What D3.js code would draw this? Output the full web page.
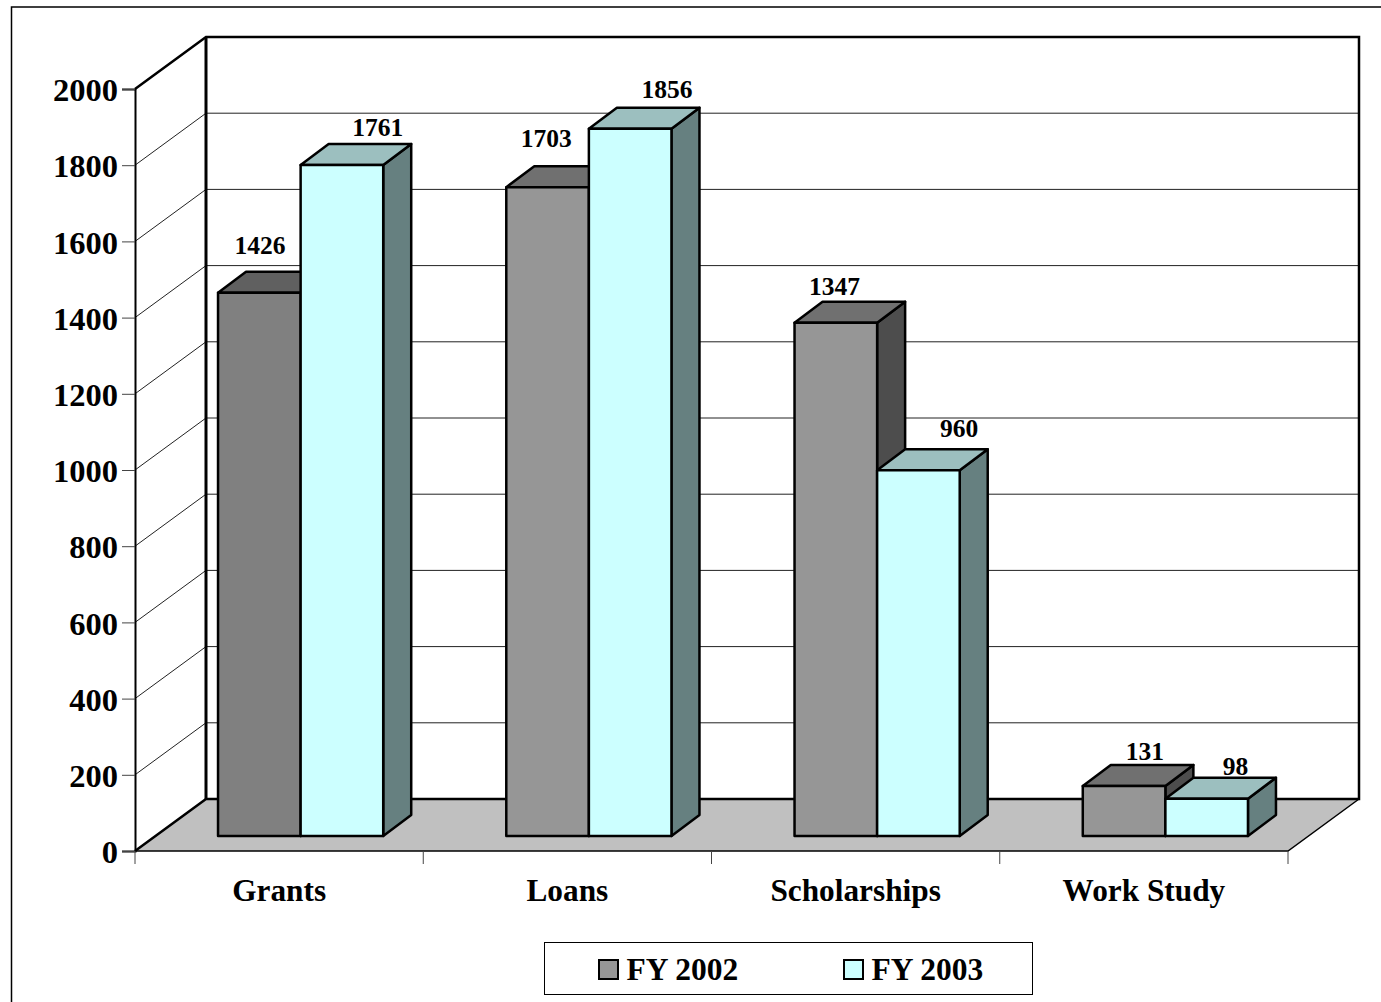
<!DOCTYPE html>
<html>
<head>
<meta charset="utf-8">
<script src="https://cdn.jsdelivr.net/npm/d3@7"></script>
<style>
  html, body { margin: 0; padding: 0; background: #fff; }
  svg { display: block; }
  text { font-family: "Liberation Serif", serif; font-weight: 700; fill: #000; }
</style>
</head>
<body>
<svg id="chart"></svg>
<script>
// 3D-look clustered column chart, faked with polygons
const categories = ["Grants", "Loans", "Scholarships", "Work Study"];
const fy2002 = [1426, 1703, 1347, 131];
const fy2003 = [1761, 1856, 960, 98];
const seriesNames = ["FY 2002", "FY 2003"];
const yTicks = [0, 200, 400, 600, 800, 1000, 1200, 1400, 1600, 1800, 2000];

const width = 1381;
const height = 1002;

// front-left corner of the floor is x=135, y=851
const depth = { x: 71, y: -52 }; // wall offset
const barDepth = { x: 28, y: -21 };
const barShift = { x: 21.5, y: -15 }; // bars sit a bit behind the front edge

// data labels are placed by hand in the original, so nudge each one
const labelDx = [[42, 77], [40, 78], [40, 82], [62, 70]];
const labelDy = [[-18, -8], [-19, -10], [-7, -12], [-5, -3]];

const svg = d3.select("#chart").attr("width", width).attr("height", height);

const yScale = d3.scaleLinear().domain([0, 2000]).range([851, 89]);
const xScale = d3.scaleBand().domain(categories).range([135, 1288]);
const xSeries = d3
  .scaleBand()
  .domain(seriesNames)
  .range([0, xScale.bandwidth()])
  .paddingInner(0)
  .paddingOuter(0.745);

const colors = {
  "FY 2002": { front: "#969696", top: "#707070", side: "#4d4d4d" },
  "FY 2003": { front: "#ccffff", top: "#9cbfbf", side: "#668080" },
};
// first grey column is a shade darker than the others
const grantsColors = { front: "#808080", top: "#606060", side: "#4d4d4d" };

const x0 = xScale.range()[0];
const x1 = xScale.range()[1];
const yBase = yScale(0);
const yTop = yScale(2000);

const poly = (pts) => pts.map((p) => p.join(",")).join(" ");

// page frame: only top and left show in the original
svg
  .append("polyline")
  .attr("points", poly([[11.5, height], [11.5, 7], [width, 7]]))
  .attr("fill", "none")
  .attr("stroke", "#000")
  .attr("stroke-width", 1.5);

// floor
svg
  .append("polygon")
  .attr("points", poly([
    [x0, yBase],
    [x0 + depth.x, yBase + depth.y],
    [x1 + depth.x, yBase + depth.y],
    [x1, yBase],
  ]))
  .attr("fill", "#c0c0c0");

// gridlines across side wall and back wall
const gridG = svg.append("g");
yTicks.slice(1, -1).forEach((t) => {
  const y = yScale(t);
  gridG
    .append("polyline")
    .attr("points", poly([
      [x0, y],
      [x0 + depth.x, y + depth.y],
      [x1 + depth.x, y + depth.y],
    ]))
    .attr("fill", "none")
    .attr("stroke", "#222")
    .attr("stroke-width", 1);
});

// walls outline
svg
  .append("polyline")
  .attr("points", poly([
    [x0, yTop],
    [x0 + depth.x, yTop + depth.y],
    [x1 + depth.x, yTop + depth.y],
    [x1 + depth.x, yBase + depth.y],
    [x0 + depth.x, yBase + depth.y],
    [x0, yBase],
  ]))
  .attr("fill", "none")
  .attr("stroke", "#000")
  .attr("stroke-width", 2.5);
svg
  .append("line")
  .attr("x1", x0 + depth.x)
  .attr("x2", x0 + depth.x)
  .attr("y1", yTop + depth.y)
  .attr("y2", yBase + depth.y)
  .attr("stroke", "#000")
  .attr("stroke-width", 3);

// floor front + right edge
svg
  .append("polyline")
  .attr("points", poly([
    [x0, yBase],
    [x1, yBase],
    [x1 + depth.x, yBase + depth.y],
  ]))
  .attr("fill", "none")
  .attr("stroke", "#000")
  .attr("stroke-width", 1.5);

// axes
const yAxisG = svg
  .append("g")
  .attr("transform", `translate(${x0},0)`)
  .call(d3.axisLeft(yScale).tickValues(yTicks).tickSize(13).tickPadding(4).tickFormat(d3.format("d")));
yAxisG.select(".domain").attr("stroke", "#000").attr("stroke-width", 2);
yAxisG.selectAll("line").attr("stroke", "#444");
yAxisG
  .selectAll("text")
  .attr("dy", "0.36em")
  .style("font-family", '"Liberation Serif", serif')
  .style("font-weight", 700)
  .style("font-size", "32.5px")
  .attr("fill", "#000");

const xAxisG = svg
  .append("g")
  .attr("transform", `translate(0,${yBase})`)
  .call(d3.axisBottom(xScale).tickSize(0).tickPadding(28));
xAxisG.select(".domain").remove();
xAxisG
  .selectAll("text")
  .style("font-family", '"Liberation Serif", serif')
  .style("font-weight", 700)
  .style("font-size", "31.3px")
  .attr("fill", "#000");
svg
  .append("g")
  .selectAll("line")
  .data(d3.range(5))
  .join("line")
  .attr("x1", (d) => x0 + d * xScale.step())
  .attr("x2", (d) => x0 + d * xScale.step())
  .attr("y1", yBase)
  .attr("y2", yBase + 13)
  .attr("stroke", "#444");

// bars: series 2 drawn after series 1 so it overlaps the side of series 1
const barsG = svg.append("g");
const labelsG = svg.append("g");

categories.forEach((cat, i) => {
  [fy2002, fy2003].forEach((values, s) => {
    const name = seriesNames[s];
    const c = i === 0 && s === 0 ? grantsColors : colors[name];
    const v = values[i];
    const left = xScale(cat) + xSeries(name) + barShift.x;
    const right = left + xSeries.bandwidth();
    const bottom = yBase + barShift.y;
    const top = yScale(v) + barShift.y;
    const g = barsG.append("g").attr("stroke", "#000").attr("stroke-width", 2.5).attr("stroke-linejoin", "round");

    g.append("polygon")
      .attr("points", poly([
        [right, bottom],
        [right + barDepth.x, bottom + barDepth.y],
        [right + barDepth.x, top + barDepth.y],
        [right, top],
      ]))
      .attr("fill", c.side);
    g.append("polygon")
      .attr("points", poly([
        [left, top],
        [left + barDepth.x, top + barDepth.y],
        [right + barDepth.x, top + barDepth.y],
        [right, top],
      ]))
      .attr("fill", c.top);
    g.append("rect")
      .attr("x", left)
      .attr("y", top)
      .attr("width", right - left)
      .attr("height", bottom - top)
      .attr("fill", c.front);

    labelsG
      .append("text")
      .attr("x", left + labelDx[i][s])
      .attr("y", top + barDepth.y + labelDy[i][s])
      .attr("text-anchor", "middle")
      .attr("font-size", 25.5)
      .text(v);
  });
});

// legend
const legendG = svg.append("g");
legendG
  .append("rect")
  .attr("x", 544.5)
  .attr("y", 942.5)
  .attr("width", 488)
  .attr("height", 52)
  .attr("fill", "#fff")
  .attr("stroke", "#000");
const legendX = [599, 844];
seriesNames.forEach((name, i) => {
  legendG
    .append("rect")
    .attr("x", legendX[i])
    .attr("y", 960)
    .attr("width", 19)
    .attr("height", 19)
    .attr("fill", colors[name].front)
    .attr("stroke", "#000")
    .attr("stroke-width", 2);
  legendG
    .append("text")
    .attr("x", legendX[i] + 27.5)
    .attr("y", 980)
    .attr("font-size", 31.5)
    .text(name);
});
</script>
</body>
</html>
